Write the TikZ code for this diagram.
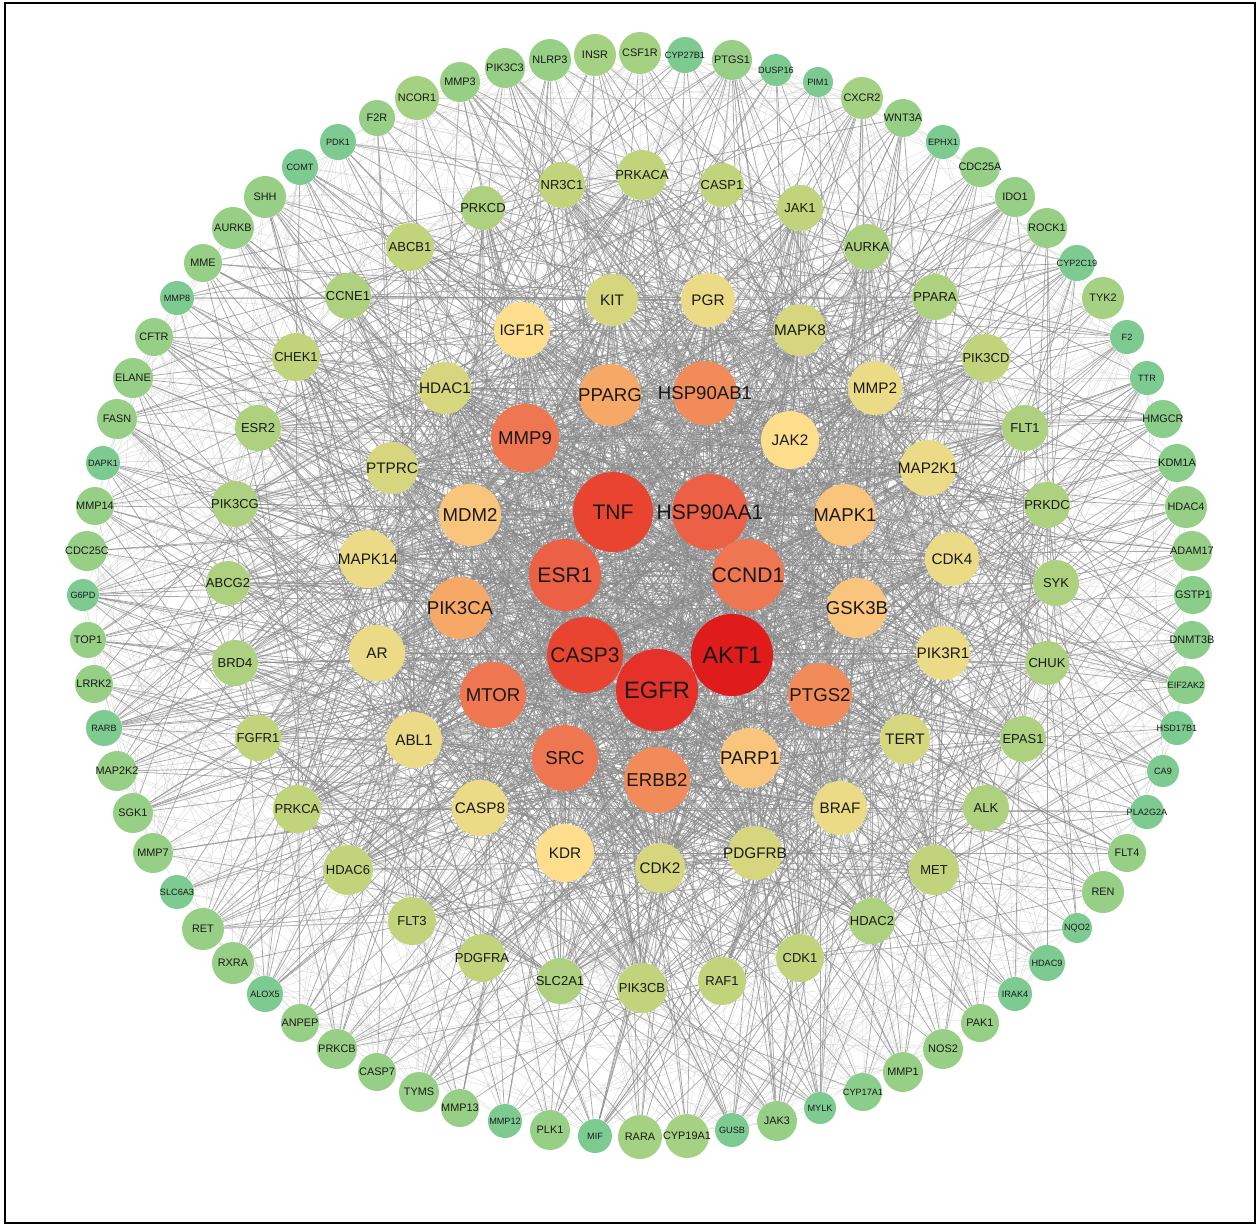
\documentclass[tikz,border=0pt]{standalone}
\usepackage{fontspec}
\setmainfont{Liberation Sans}
\usetikzlibrary{backgrounds}

\definecolor{cA}{HTML}{E01B1C}
\definecolor{cB}{HTML}{E5312A}
\definecolor{cC}{HTML}{E84430}
\definecolor{cD}{HTML}{EC6145}
\definecolor{cE}{HTML}{EE7650}
\definecolor{cF}{HTML}{F18C5A}
\definecolor{cG}{HTML}{F6A967}
\definecolor{cH}{HTML}{F9C57C}
\definecolor{cI}{HTML}{FCDE8D}
\definecolor{cJ}{HTML}{EBDA86}
\definecolor{cK}{HTML}{D5D67E}
\definecolor{cL}{HTML}{C2D47B}
\definecolor{cLL}{HTML}{ADD17F}
\definecolor{cM}{HTML}{97CF86}
\definecolor{cMM}{HTML}{A5D183}
\definecolor{cMT}{HTML}{8BCD8A}
\definecolor{cN}{HTML}{7ECB92}
\definecolor{edgegray}{HTML}{8A8A8A}

% node sets
\def\coreset{TNF,HSP90AA1,ESR1,CCND1,CASP3,AKT1,EGFR}
\def\hubset{MMP9,PPARG,HSP90AB1,MDM2,MAPK1,PIK3CA,GSK3B,MTOR,PTGS2,SRC,ERBB2,PARP1}
\def\tierset{IGF1R,KIT,PGR,MAPK8,HDAC1,MMP2,PTPRC,MAP2K1,MAPK14,CDK4,AR,PIK3R1,ABL1,TERT,CASP8,BRAF,KDR,CDK2,PDGFRB,JAK2}
\def\shellset{NR3C1,PRKACA,CASP1,JAK1,PRKCD,AURKA,ABCB1,PPARA,CCNE1,PIK3CD,CHEK1,FLT1,ESR2,PRKDC,PIK3CG,SYK,ABCG2,CHUK,BRD4,EPAS1,FGFR1,ALK,PRKCA,MET,HDAC6,HDAC2,FLT3,CDK1,PDGFRA,RAF1,SLC2A1,PIK3CB}
\def\ringset{NCOR1,MMP3,PIK3C3,NLRP3,INSR,CSF1R,CYP27B1,PTGS1,DUSP16,PIM1,CXCR2,WNT3A,EPHX1,CDC25A,IDO1,ROCK1,CYP2C19,TYK2,F2,TTR,HMGCR,KDM1A,HDAC4,ADAM17,GSTP1,DNMT3B,EIF2AK2,HSD17B1,CA9,PLA2G2A,FLT4,REN,NQO2,HDAC9,IRAK4,PAK1,NOS2,MMP1,CYP17A1,MYLK,JAK3,GUSB,CYP19A1,RARA,MIF,PLK1,MMP12,MMP13,TYMS,CASP7,PRKCB,ANPEP,ALOX5,RXRA,RET,SLC6A3,MMP7,SGK1,MAP2K2,RARB,LRRK2,TOP1,G6PD,CDC25C,MMP14,DAPK1,FASN,ELANE,CFTR,MMP8,MME,AURKB,SHH,COMT,PDK1,F2R}
\edef\innerset{\coreset,\hubset,\tierset}

% draw a connector with a given chance
\newcommand\linkif[4]{%
  \pgfmathsetmacro\pickval{rnd}%
  \ifdim\pickval pt<#4pt\relax\draw[#1] (#2) -- (#3);\fi}

% labels may be wider than their circle
\newsavebox\genebox

\begin{document}
\begin{tikzpicture}[x=0.02cm, y=-0.02cm,
    gene/.style={circle, inner sep=0pt, text=black!90,
        execute at begin node={\setbox\genebox=\hbox\bgroup},
        execute at end node={\egroup\hbox to 0pt{\hss\usebox\genebox\hss}}},
    core/.style={gene, minimum size=#1*0.4mm, font=\fontsize{12}{12}\selectfont},
    hub/.style={gene, minimum size=#1*0.4mm, font=\fontsize{10.6}{11}\selectfont},
    tier/.style={gene, minimum size=#1*0.4mm, font=\fontsize{8.7}{9}\selectfont},
    shell/.style={gene, minimum size=#1*0.4mm, font=\fontsize{7.4}{8}\selectfont},
    leaf/.style={gene, minimum size=#1*0.4mm, font=\fontsize{6.2}{7}\selectfont},
    twig/.style={gene, minimum size=#1*0.4mm, font=\fontsize{5.2}{6}\selectfont},
    link/.style={draw=edgegray, line width=0.42pt, opacity=0.75},
    faint/.style={draw=edgegray!50, line width=0.25pt, opacity=0.6}
]
    \useasboundingbox (0,0) rectangle (1258,1225);
    \draw[line width=1.2pt] (5,3) rectangle (1255,1223);

    % core
    \node[core=40, fill=cC] (TNF) at (613,512) {TNF};
    \node[core=38, fill=cD] (HSP90AA1) at (710,512) {HSP90AA1};
    \node[core=36, fill=cD] (ESR1) at (565,575) {ESR1};
    \node[core=36, fill=cE] (CCND1) at (748,575) {CCND1};
    \node[core=38, fill=cC] (CASP3) at (585,655) {CASP3};
    \node[core=41, fill=cA, font=\fontsize{13.5}{14}\selectfont] (AKT1) at (732,655) {AKT1};
    \node[core=41, fill=cB, font=\fontsize{13.5}{14}\selectfont] (EGFR) at (657,690) {EGFR};

    % hubs
    \node[hub=34, fill=cE] (MMP9) at (525,438) {MMP9};
    \node[hub=31, fill=cG] (PPARG) at (610,395) {PPARG};
    \node[hub=32, fill=cF] (HSP90AB1) at (705,393) {HSP90AB1};
    \node[hub=31, fill=cH] (MDM2) at (470,515) {MDM2};
    \node[hub=31, fill=cH] (MAPK1) at (845,515) {MAPK1};
    \node[hub=31, fill=cG] (PIK3CA) at (460,608) {PIK3CA};
    \node[hub=30, fill=cH] (GSK3B) at (857,608) {GSK3B};
    \node[hub=33, fill=cE] (MTOR) at (493,695) {MTOR};
    \node[hub=32, fill=cF] (PTGS2) at (820,695) {PTGS2};
    \node[hub=33, fill=cE] (SRC) at (565,758) {SRC};
    \node[hub=33, fill=cF] (ERBB2) at (657,780) {ERBB2};
    \node[hub=30, fill=cH] (PARP1) at (750,758) {PARP1};

    % second ring
    \node[tier=28, fill=cI] (IGF1R) at (522,330) {IGF1R};
    \node[tier=26, fill=cK] (KIT) at (612,300) {KIT};
    \node[tier=27, fill=cJ] (PGR) at (708,300) {PGR};
    \node[tier=26, fill=cK] (MAPK8) at (800,330) {MAPK8};
    \node[tier=26, fill=cK] (HDAC1) at (445,388) {HDAC1};
    \node[tier=27, fill=cJ] (MMP2) at (875,388) {MMP2};
    \node[tier=29, fill=cI] (JAK2) at (790,440) {JAK2};
    \node[tier=26, fill=cK] (PTPRC) at (392,468) {PTPRC};
    \node[tier=28, fill=cJ] (MAP2K1) at (928,468) {MAP2K1};
    \node[tier=29, fill=cJ] (MAPK14) at (368,559) {MAPK14};
    \node[tier=27, fill=cJ] (CDK4) at (952,559) {CDK4};
    \node[tier=28, fill=cJ] (AR) at (377,653) {AR};
    \node[tier=27, fill=cJ] (PIK3R1) at (943,653) {PIK3R1};
    \node[tier=28, fill=cJ] (ABL1) at (414,740) {ABL1};
    \node[tier=25, fill=cK] (TERT) at (905,739) {TERT};
    \node[tier=28, fill=cJ] (CASP8) at (480,808) {CASP8};
    \node[tier=27, fill=cJ] (BRAF) at (840,808) {BRAF};
    \node[tier=29, fill=cI] (KDR) at (565,853) {KDR};
    \node[tier=25, fill=cK] (CDK2) at (660,868) {CDK2};
    \node[tier=27, fill=cK] (PDGFRB) at (755,853) {PDGFRB};

    % third ring
    \node[shell=23, fill=cL] (NR3C1) at (562,185) {NR3C1};
    \node[shell=25, fill=cL] (PRKACA) at (642,175) {PRKACA};
    \node[shell=22, fill=cL] (CASP1) at (722,185) {CASP1};
    \node[shell=23, fill=cL] (JAK1) at (800,208) {JAK1};
    \node[shell=22, fill=cLL] (PRKCD) at (483,208) {PRKCD};
    \node[shell=23, fill=cLL] (AURKA) at (867,247) {AURKA};
    \node[shell=24, fill=cL] (ABCB1) at (410,247) {ABCB1};
    \node[shell=23, fill=cLL] (PPARA) at (935,297) {PPARA};
    \node[shell=23, fill=cLL] (CCNE1) at (348,296) {CCNE1};
    \node[shell=24, fill=cL] (PIK3CD) at (986,358) {PIK3CD};
    \node[shell=24, fill=cL] (CHEK1) at (296,357) {CHEK1};
    \node[shell=23, fill=cLL] (FLT1) at (1025,428) {FLT1};
    \node[shell=23, fill=cLL] (ESR2) at (258,428) {ESR2};
    \node[shell=23, fill=cLL] (PRKDC) at (1047,505) {PRKDC};
    \node[shell=23, fill=cLL] (PIK3CG) at (235,504) {PIK3CG};
    \node[shell=23, fill=cLL] (SYK) at (1056,583) {SYK};
    \node[shell=22, fill=cLL] (ABCG2) at (228,583) {ABCG2};
    \node[shell=22, fill=cLL] (CHUK) at (1047,663) {CHUK};
    \node[shell=23, fill=cLL] (BRD4) at (235,663) {BRD4};
    \node[shell=23, fill=cLL] (EPAS1) at (1023,739) {EPAS1};
    \node[shell=23, fill=cL] (FGFR1) at (258,738) {FGFR1};
    \node[shell=23, fill=cLL] (ALK) at (986,808) {ALK};
    \node[shell=24, fill=cL] (PRKCA) at (297,809) {PRKCA};
    \node[shell=25, fill=cL] (MET) at (934,870) {MET};
    \node[shell=25, fill=cL] (HDAC6) at (348,870) {HDAC6};
    \node[shell=23, fill=cLL] (HDAC2) at (872,921) {HDAC2};
    \node[shell=24, fill=cL] (FLT3) at (412,921) {FLT3};
    \node[shell=24, fill=cL] (CDK1) at (800,958) {CDK1};
    \node[shell=24, fill=cL] (PDGFRA) at (482,958) {PDGFRA};
    \node[shell=24, fill=cL] (RAF1) at (722,981) {RAF1};
    \node[shell=23, fill=cLL] (SLC2A1) at (560,981) {SLC2A1};
    \node[shell=25, fill=cL] (PIK3CB) at (642,988) {PIK3CB};

    % outer ring
    \node[leaf=22, fill=cMM] (NCOR1) at (417,98) {NCOR1};
    \node[leaf=20, fill=cM] (MMP3) at (460,82) {MMP3};
    \node[leaf=20, fill=cM] (PIK3C3) at (505,68) {PIK3C3};
    \node[leaf=21, fill=cM] (NLRP3) at (550,60) {NLRP3};
    \node[leaf=21, fill=cMM] (INSR) at (595,55) {INSR};
    \node[leaf=21, fill=cMM] (CSF1R) at (640,53) {CSF1R};
    \node[twig=18, fill=cN] (CYP27B1) at (685,55) {CYP27B1};
    \node[leaf=20, fill=cM] (PTGS1) at (732,60) {PTGS1};
    \node[twig=16, fill=cN] (DUSP16) at (776,70) {DUSP16};
    \node[twig=15, fill=cN] (PIM1) at (818,82) {PIM1};
    \node[leaf=21, fill=cMM] (CXCR2) at (862,98) {CXCR2};
    \node[leaf=19, fill=cM] (WNT3A) at (903,118) {WNT3A};
    \node[twig=17, fill=cN] (EPHX1) at (943,142) {EPHX1};
    \node[leaf=20, fill=cM] (CDC25A) at (980,167) {CDC25A};
    \node[leaf=20, fill=cM] (IDO1) at (1015,197) {IDO1};
    \node[leaf=20, fill=cM] (ROCK1) at (1047,228) {ROCK1};
    \node[twig=18, fill=cN] (CYP2C19) at (1077,263) {CYP2C19};
    \node[leaf=21, fill=cMM] (TYK2) at (1103,298) {TYK2};
    \node[twig=17, fill=cN] (F2) at (1127,337) {F2};
    \node[twig=17, fill=cN] (TTR) at (1147,378) {TTR};
    \node[leaf=19, fill=cMT] (HMGCR) at (1163,419) {HMGCR};
    \node[leaf=19, fill=cMT] (KDM1A) at (1177,463) {KDM1A};
    \node[leaf=21, fill=cM] (HDAC4) at (1186,507) {HDAC4};
    \node[leaf=20, fill=cM] (ADAM17) at (1192,551) {ADAM17};
    \node[leaf=19, fill=cMT] (GSTP1) at (1193,595) {GSTP1};
    \node[leaf=19, fill=cMT] (DNMT3B) at (1192,640) {DNMT3B};
    \node[twig=19, fill=cMT] (EIF2AK2) at (1186,685) {EIF2AK2};
    \node[twig=17, fill=cN] (HSD17B1) at (1177,728) {HSD17B1};
    \node[twig=16, fill=cN] (CA9) at (1163,771) {CA9};
    \node[twig=17, fill=cN] (PLA2G2A) at (1147,812) {PLA2G2A};
    \node[leaf=19, fill=cM] (FLT4) at (1127,853) {FLT4};
    \node[leaf=21, fill=cM] (REN) at (1103,892) {REN};
    \node[twig=15, fill=cN] (NQO2) at (1077,928) {NQO2};
    \node[twig=18, fill=cN] (HDAC9) at (1047,963) {HDAC9};
    \node[twig=17, fill=cN] (IRAK4) at (1015,994) {IRAK4};
    \node[leaf=19, fill=cM] (PAK1) at (980,1023) {PAK1};
    \node[leaf=20, fill=cM] (NOS2) at (943,1049) {NOS2};
    \node[leaf=20, fill=cM] (MMP1) at (903,1072) {MMP1};
    \node[twig=19, fill=cMT] (CYP17A1) at (863,1092) {CYP17A1};
    \node[twig=16, fill=cN] (MYLK) at (820,1108) {MYLK};
    \node[leaf=20, fill=cM] (JAK3) at (777,1121) {JAK3};
    \node[twig=17, fill=cN] (GUSB) at (732,1130) {GUSB};
    \node[leaf=22, fill=cMM] (CYP19A1) at (687,1136) {CYP19A1};
    \node[leaf=22, fill=cMM] (RARA) at (640,1137) {RARA};
    \node[twig=17, fill=cN] (MIF) at (595,1136) {MIF};
    \node[leaf=20, fill=cM] (PLK1) at (550,1130) {PLK1};
    \node[twig=17, fill=cN] (MMP12) at (505,1121) {MMP12};
    \node[leaf=19, fill=cM] (MMP13) at (460,1108) {MMP13};
    \node[leaf=20, fill=cM] (TYMS) at (419,1092) {TYMS};
    \node[leaf=19, fill=cM] (CASP7) at (377,1072) {CASP7};
    \node[leaf=20, fill=cM] (PRKCB) at (337,1049) {PRKCB};
    \node[leaf=19, fill=cM] (ANPEP) at (300,1023) {ANPEP};
    \node[twig=18, fill=cN] (ALOX5) at (265,994) {ALOX5};
    \node[leaf=21, fill=cM] (RXRA) at (233,963) {RXRA};
    \node[leaf=21, fill=cM] (RET) at (203,929) {RET};
    \node[twig=17, fill=cN] (SLC6A3) at (177,892) {SLC6A3};
    \node[leaf=20, fill=cM] (MMP7) at (153,853) {MMP7};
    \node[leaf=20, fill=cM] (SGK1) at (133,813) {SGK1};
    \node[leaf=20, fill=cM] (MAP2K2) at (117,771) {MAP2K2};
    \node[twig=18, fill=cN] (RARB) at (104,728) {RARB};
    \node[leaf=19, fill=cM] (LRRK2) at (94,684) {LRRK2};
    \node[leaf=18, fill=cM] (TOP1) at (88,640) {TOP1};
    \node[twig=16, fill=cN] (G6PD) at (83,595) {G6PD};
    \node[leaf=20, fill=cM] (CDC25C) at (87,551) {CDC25C};
    \node[leaf=19, fill=cM] (MMP14) at (95,506) {MMP14};
    \node[twig=17, fill=cN] (DAPK1) at (103,463) {DAPK1};
    \node[leaf=20, fill=cM] (FASN) at (117,419) {FASN};
    \node[leaf=20, fill=cM] (ELANE) at (133,378) {ELANE};
    \node[leaf=19, fill=cM] (CFTR) at (154,337) {CFTR};
    \node[twig=17, fill=cN] (MMP8) at (177,298) {MMP8};
    \node[leaf=19, fill=cM] (MME) at (203,263) {MME};
    \node[leaf=21, fill=cM] (AURKB) at (233,228) {AURKB};
    \node[leaf=21, fill=cM] (SHH) at (265,197) {SHH};
    \node[twig=18, fill=cN] (COMT) at (300,167) {COMT};
    \node[twig=18, fill=cN] (PDK1) at (338,142) {PDK1};
    \node[leaf=18, fill=cM] (F2R) at (377,118) {F2R};

    % connectors
    \begin{scope}[on background layer]
        \pgfmathsetseed{4217}
        \foreach \a [count=\i] in \innerset {
            \foreach \b [count=\j] in \innerset {
                \ifnum\j>\i \linkif{link}{\a}{\b}{0.95}\fi
            }
        }
        \foreach \a in \shellset {
            \foreach \b in \innerset {\linkif{link}{\a}{\b}{0.42}}
        }
        \foreach \a [count=\i] in \shellset {
            \foreach \b [count=\j] in \shellset {
                \ifnum\j>\i \linkif{link}{\a}{\b}{0.12}\fi
            }
        }
        \foreach \a in \ringset {
            \foreach \b in \innerset {\linkif{link}{\a}{\b}{0.15}}
            \foreach \b in \shellset {\linkif{link}{\a}{\b}{0.08}}
            \foreach \b in \ringset {\linkif{faint}{\a}{\b}{0.05}}
            \foreach \b in \shellset {\linkif{faint}{\a}{\b}{0.12}}
        }
    \end{scope}
\end{tikzpicture}
\end{document}
